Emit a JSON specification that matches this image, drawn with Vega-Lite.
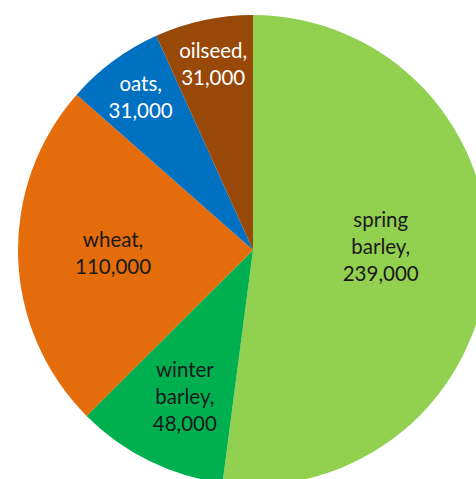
{
  "$schema": "https://vega.github.io/schema/vega-lite/v6.json",
  "width": 506,
  "height": 500,
  "autosize": {"type": "none"},
  "padding": 0,
  "background": "white",
  "config": {"view": {"stroke": null}},
  "data": {
    "values": [
      {"crop": "spring barley", "order": 1, "value": 239000, "label": "spring\nbarley,\n239,000"},
      {"crop": "winter barley", "order": 2, "value": 48000, "label": "winter\nbarley,\n48,000"},
      {"crop": "wheat", "order": 3, "value": 110000, "label": "wheat,\n110,000"},
      {"crop": "oats", "order": 4, "value": 31000, "label": "oats,\n31,000"},
      {"crop": "oilseed", "order": 5, "value": 31000, "label": "oilseed,\n31,000"}
    ]
  },
  "encoding": {
    "theta": {"field": "value", "type": "quantitative", "stack": true},
    "order": {"field": "order", "type": "quantitative", "sort": "ascending"}
  },
  "layer": [
    {
      "mark": {"type": "arc", "outerRadius": 235},
      "encoding": {
        "color": {
          "field": "crop",
          "type": "nominal",
          "scale": {
            "domain": ["spring barley", "winter barley", "wheat", "oats", "oilseed"],
            "range": ["#92D050", "#00B050", "#E46C0A", "#0070C0", "#984807"]
          },
          "legend": null
        }
      }
    },
    {
      "mark": {"type": "text", "font": "Lato", "fontSize": 20.5, "lineHeight": 27, "lineBreak": "\n", "align": "center", "baseline": "middle", "color": "#1a1a1a", "dy": -37},
      "encoding": {
        "radius": {"value": 128},
        "text": {"condition": {"test": "datum.crop === 'spring barley'", "field": "label"}, "value": ""}
      }
    },
    {
      "mark": {"type": "text", "font": "Lato", "fontSize": 20.5, "lineHeight": 27, "lineBreak": "\n", "align": "center", "baseline": "middle", "color": "#1a1a1a", "dy": -13},
      "encoding": {
        "radius": {"value": 140},
        "text": {"condition": {"test": "datum.crop === 'wheat'", "field": "label"}, "value": ""}
      }
    },
    {
      "mark": {"type": "text", "font": "Lato", "fontSize": 20.5, "lineHeight": 27, "lineBreak": "\n", "align": "center", "baseline": "middle", "color": "#1a1a1a", "dy": -25, "dx": 4},
      "encoding": {
        "radius": {"value": 163},
        "text": {"condition": {"test": "datum.crop === 'winter barley'", "field": "label"}, "value": ""}
      }
    },
    {
      "mark": {"type": "text", "font": "Lato", "fontSize": 20.5, "lineHeight": 27, "lineBreak": "\n", "align": "center", "baseline": "middle", "color": "#ffffff", "dy": -13},
      "encoding": {
        "radius": {"value": 189},
        "text": {"condition": {"test": "datum.crop === 'oats' || datum.crop === 'oilseed'", "field": "label"}, "value": ""}
      }
    }
  ]
}
